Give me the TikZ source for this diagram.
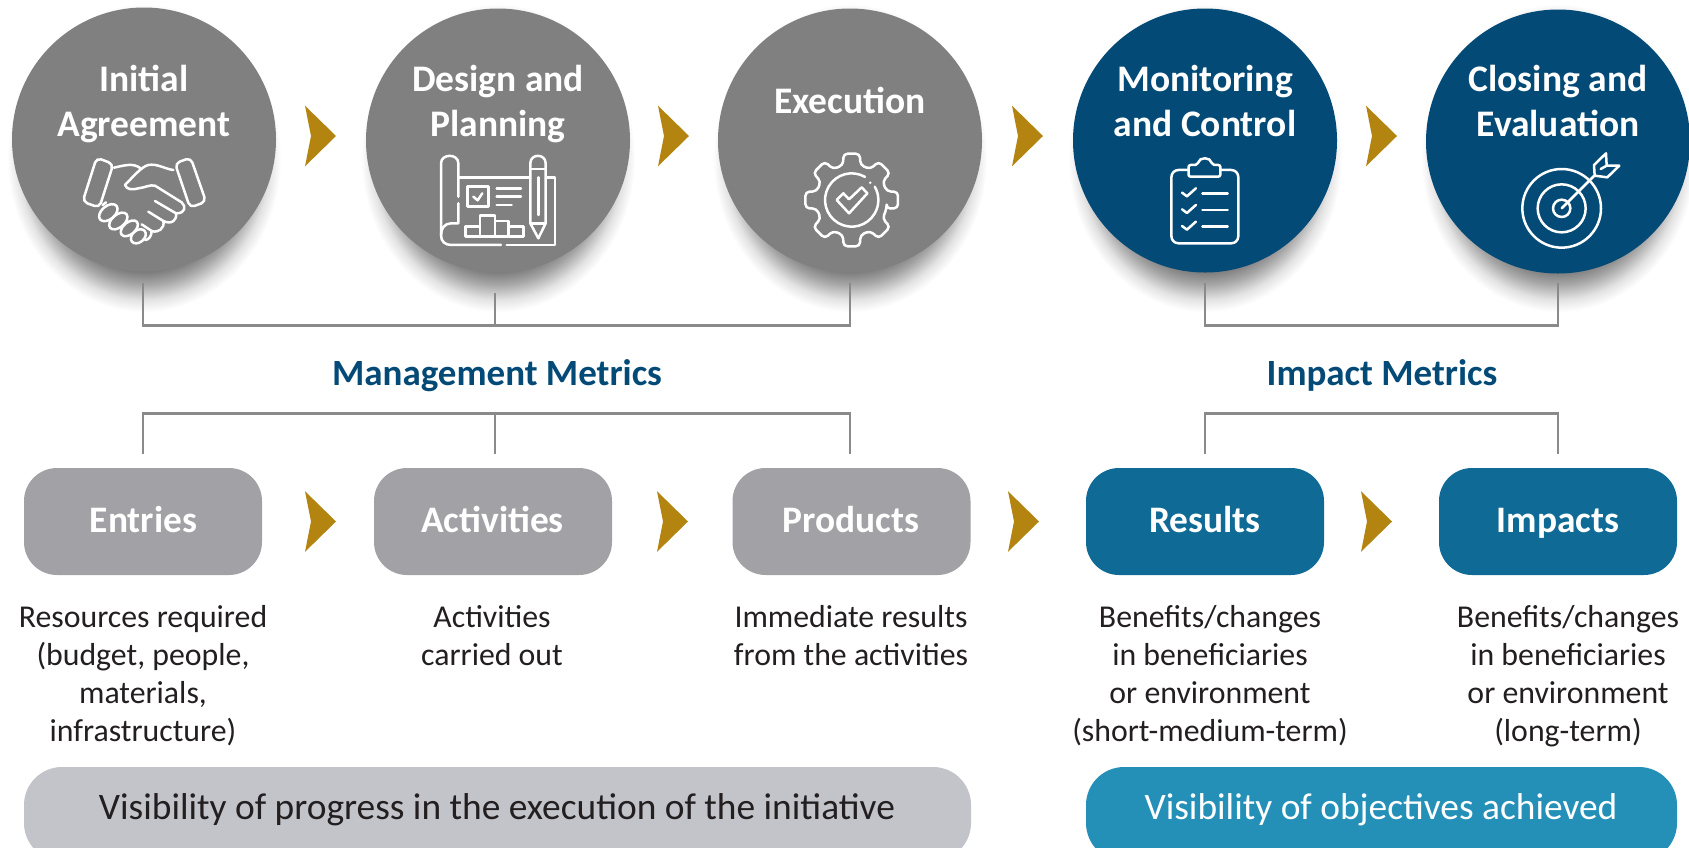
\documentclass[tikz,border=0pt]{standalone}
\usepackage{fontspec}
\setmainfont{Carlito}
\definecolor{cgray}{HTML}{808080}
\definecolor{cnavy}{HTML}{044A77}
\definecolor{cgold}{HTML}{B38410}
\definecolor{cbox}{HTML}{A2A1A5}
\definecolor{cteal}{HTML}{0F6B95}
\definecolor{cbar}{HTML}{C3C4C9}
\definecolor{cbarb}{HTML}{2490B8}
\definecolor{cline}{HTML}{8A8A8A}
\definecolor{ctext}{HTML}{231F20}
\pgfdeclareradialshading{shadowdisc}{\pgfpointorigin}{color(0bp)=(black!55);color(18bp)=(black!55);color(20.5bp)=(black!35);color(23bp)=(black!11);color(25bp)=(white);color(50bp)=(white)}
\tikzset{
  disc/.style={circle,minimum size=264pt,inner sep=0pt,draw=none},
  tag/.style={rectangle,rounded corners=33pt,minimum width=238pt,minimum height=107pt,inner sep=0pt,draw=none},
  head/.style={anchor=base,align=center,text=white,font=\fontsize{37.5}{45}\selectfont\bfseries},
  metric/.style={anchor=base,text=cnavy,font=\fontsize{37}{42}\selectfont\bfseries},
  taglabel/.style={anchor=base,text=white,font=\fontsize{37.4}{42}\selectfont\bfseries},
  desc/.style={anchor=base,align=center,text=ctext,font=\fontsize{31.8}{37.7}\selectfont},
  bartext/.style={anchor=base,font=\fontsize{37.4}{42}\selectfont},
  bracket/.style={draw=cline,line width=2.6pt},
  icon/.style={draw=white,line width=2.5pt,line cap=round,line join=round},
  chevron/.pic={\fill[cgold] (0,-30.3) -- (31,0) -- (0,30.3) -- (6,0) -- cycle;},
}
\newcommand{\dropshadow}[1]{\shade[shading=shadowdisc] (#1,158) ellipse [x radius=137, y radius=154];}
\begin{document}
\begin{tikzpicture}[x=1pt,y=-1pt]
\path[use as bounding box,clip] (0,0) rectangle (1689,847);
\fill[white] (0,0) rectangle (1689,847);
% shadows
\dropshadow{144}\dropshadow{498}\dropshadow{850}\dropshadow{1205}\dropshadow{1558}
% circles
\node[disc,fill=cgray] (c1) at (144,139.5) {};
\node[disc,fill=cgray] (c2) at (498,140.5) {};
\node[disc,fill=cgray] (c3) at (850,140.5) {};
\node[disc,fill=cnavy] (c4) at (1205,140.5) {};
\node[disc,fill=cnavy] (c5) at (1558,141.5) {};
\node[head] (h1) at (144,136) {Initial\\Agreement};
\node[head] (h2) at (498,136) {Design and\\Planning};
\node[head] (h3) at (850,113) {Execution};
\node[head] (h4) at (1205,136) {Monitoring\\and Control};
\node[head] (h5) at (1558,136) {Closing and\\Evaluation};
% chevrons
\pic at (305,136) {chevron};
\pic at (658,136) {chevron};
\pic at (1012,136) {chevron};
\pic at (1366,136) {chevron};
\pic at (305,521.5) {chevron};
\pic at (657,521.5) {chevron};
\pic at (1008,521.5) {chevron};
\pic at (1361,521.5) {chevron};
% brackets
\coordinate (a1) at (143,283); \coordinate (a2) at (495,293); \coordinate (a3) at (850,283);
\coordinate (a4) at (1205,283); \coordinate (a5) at (1558,283);
\coordinate (b1) at (143,325.5); \coordinate (b2) at (495,325.5); \coordinate (b3) at (850,325.5);
\coordinate (b4) at (1205,325.5); \coordinate (b5) at (1558,325.5);
\draw[bracket] (a1) -- (b1) -- (b3) -- (a3);
\draw[bracket] (a2) -- (b2);
\draw[bracket] (a4) -- (b4) -- (b5) -- (a5);
\coordinate (d1) at (143,454); \coordinate (d2) at (495,454); \coordinate (d3) at (850,454);
\coordinate (d4) at (1205,454); \coordinate (d5) at (1558,454);
\coordinate (e1) at (143,413.5); \coordinate (e2) at (495,413.5); \coordinate (e3) at (850,413.5);
\coordinate (e4) at (1205,413.5); \coordinate (e5) at (1558,413.5);
\draw[bracket] (d1) -- (e1) -- (e3) -- (d3);
\draw[bracket] (e2) -- (d2);
\draw[bracket] (d4) -- (e4) -- (e5) -- (d5);
% metric titles
\node[metric] (m1) at (497,385) {Management Metrics};
\node[metric] (m2) at (1382,385) {Impact Metrics};
% tags
\node[tag,fill=cbox] (t1) at (143,521.5) {};
\node[tag,fill=cbox] (t2) at (493,521.5) {};
\node[tag,fill=cbox] (t3) at (851.5,521.5) {};
\node[tag,fill=cteal] (t4) at (1205,521.5) {};
\node[tag,fill=cteal] (t5) at (1558,521.5) {};
\node[taglabel] (l1) at (143.5,532) {Entries};
\node[taglabel] (l2) at (492.5,532) {Activities};
\node[taglabel] (l3) at (851,532) {Products};
\node[taglabel] (l4) at (1205,532) {Results};
\node[taglabel] (l5) at (1558,532) {Impacts};
% descriptions
\node[desc] (x1) at (143,741) {Resources required\\(budget, people,\\materials,\\infrastructure)};
\node[desc] (x2) at (492,665) {Activities\\carried out};
\node[desc] (x3) at (851,665) {Immediate results\\from the activities};
\node[desc] (x4) at (1210,741) {Benefits/changes\\in beneficiaries\\or environment\\(short-medium-term)};
\node[desc] (x5) at (1568,741) {Benefits/changes\\in beneficiaries\\or environment\\(long-term)};
% bars
\fill[cbar,rounded corners=38pt] (24,767) rectangle (971,861);
\fill[cbarb,rounded corners=38pt] (1086,767) rectangle (1677,861);
\node[bartext,text=ctext] (v1) at (497,819) {Visibility of progress in the execution of the initiative};
\node[bartext,text=white] (v2) at (1381,819) {Visibility of objectives achieved};
% handshake
\begin{scope}[shift={(70,145)},x=.3333pt,y=-.3333pt,icon]
\draw[rounded corners=5pt] (80,38) -- (130,57) -- (88,188) -- (38,170) -- cycle;
\draw[rounded corners=5pt] (315,55) -- (362,38) -- (408,170) -- (360,188) -- cycle;
\draw (132,68) .. controls (160,62) and (190,52) .. (212,70);
\draw (310,75) .. controls (285,72) and (262,55) .. (235,60) .. controls (215,64) and (185,100) .. (165,120) .. controls (170,135) and (190,135) .. (205,130) .. controls (225,128) and (240,118) .. (255,122) -- (335,172) .. controls (350,185) and (345,205) .. (320,205);
\draw (255,168) -- (318,205) .. controls (322,225) and (305,240) .. (280,228) -- (235,200);
\draw (280,228) .. controls (285,250) and (265,265) .. (245,258) -- (215,238);
\draw (245,258) .. controls (245,275) and (235,285) .. (225,285);
\draw (98,180) -- (108,172);
\draw[rotate around={40:(115,203)}] (115,203) ellipse [x radius=32, y radius=20];
\draw[rotate around={40:(145,228)}] (145,228) ellipse [x radius=32, y radius=19];
\draw[rotate around={40:(178,250)}] (178,250) ellipse [x radius=30, y radius=18];
\draw[rotate around={40:(205,274)}] (205,274) ellipse [x radius=25, y radius=18];
\end{scope}
% blueprint
\begin{scope}[shift={(425,145)},x=.3333pt,y=-.3333pt,icon]
\draw (100,155) -- (100,55) .. controls (100,25) and (48,25) .. (48,55) -- (48,270) .. controls (48,290) and (60,300) .. (80,300) -- (228,300);
\draw (245,300) -- (390,300) -- (390,97) -- (365,97);
\draw (100,97) -- (312,97);
\draw (100,175) -- (100,235) -- (78,235) .. controls (58,235) and (48,252) .. (48,270);
\draw (128,125) rectangle (190,185);
\draw (145,155) -- (158,166) -- (172,145);
\draw (215,130) -- (288,130);
\draw (215,155) -- (288,155);
\draw (215,180) -- (260,180);
\draw (122,245) rectangle (165,275);
\draw (165,212) rectangle (210,275);
\draw (210,228) rectangle (250,275);
\draw (250,245) rectangle (295,275);
\draw (316,235) -- (316,55) .. controls (316,25) and (362,25) .. (362,55) -- (362,235) -- (340,280) -- cycle;
\draw (316,72) -- (362,72);
\draw (316,235) -- (362,235);
\draw (340,97) -- (340,210);
\end{scope}
% gear
\begin{scope}[shift={(851.7,200)},x=.3333pt,y=.3333pt,icon]
\draw[rounded corners=4pt] (-14:108)
 \foreach \a in {0,45,...,315} { -- ({\a-14}:108) -- ({\a-10}:141) -- ({\a+10}:141) -- ({\a+14}:108) } -- cycle;
\draw (60:80) arc [start angle=60, end angle=390, radius=80];
\fill[white] (43:76) circle (4);
\draw (-45,0) -- (-25,20) -- (-8,2) -- (30,38) -- (47,20) -- (-8,-40) -- cycle;
\end{scope}
% clipboard
\begin{scope}[shift={(1050,0)},x=.4075pt,y=-.3333pt,icon]
\draw[rounded corners=7pt] (340,510) -- (298,510) -- (298,730) -- (462,730) -- (462,510) -- (418,510);
\draw[rounded corners=2pt] (340,530) -- (340,495) -- (362,495) .. controls (366,470) and (394,470) .. (398,495) -- (418,495) -- (418,530) -- cycle;
\foreach \y in {578,628,678} {
  \draw (324,\y) -- (336,\y+11) -- (358,\y-13);
  \draw (374,\y+2) -- (436,\y+2);
}
\end{scope}
% target
\begin{scope}[shift={(1490,145)},x=.3333pt,y=-.3333pt,icon]
\draw (215,190) circle (118);
\draw (215,190) circle (72);
\draw (215,190) circle (26);
\draw (215,190) -- (312,93);
\draw (312,60) -- (348,25) -- (350,62) -- (388,62) -- (352,97) -- (314,92) -- cycle;
\draw (350,62) -- (332,72);
\end{scope}
\end{tikzpicture}
\end{document}
